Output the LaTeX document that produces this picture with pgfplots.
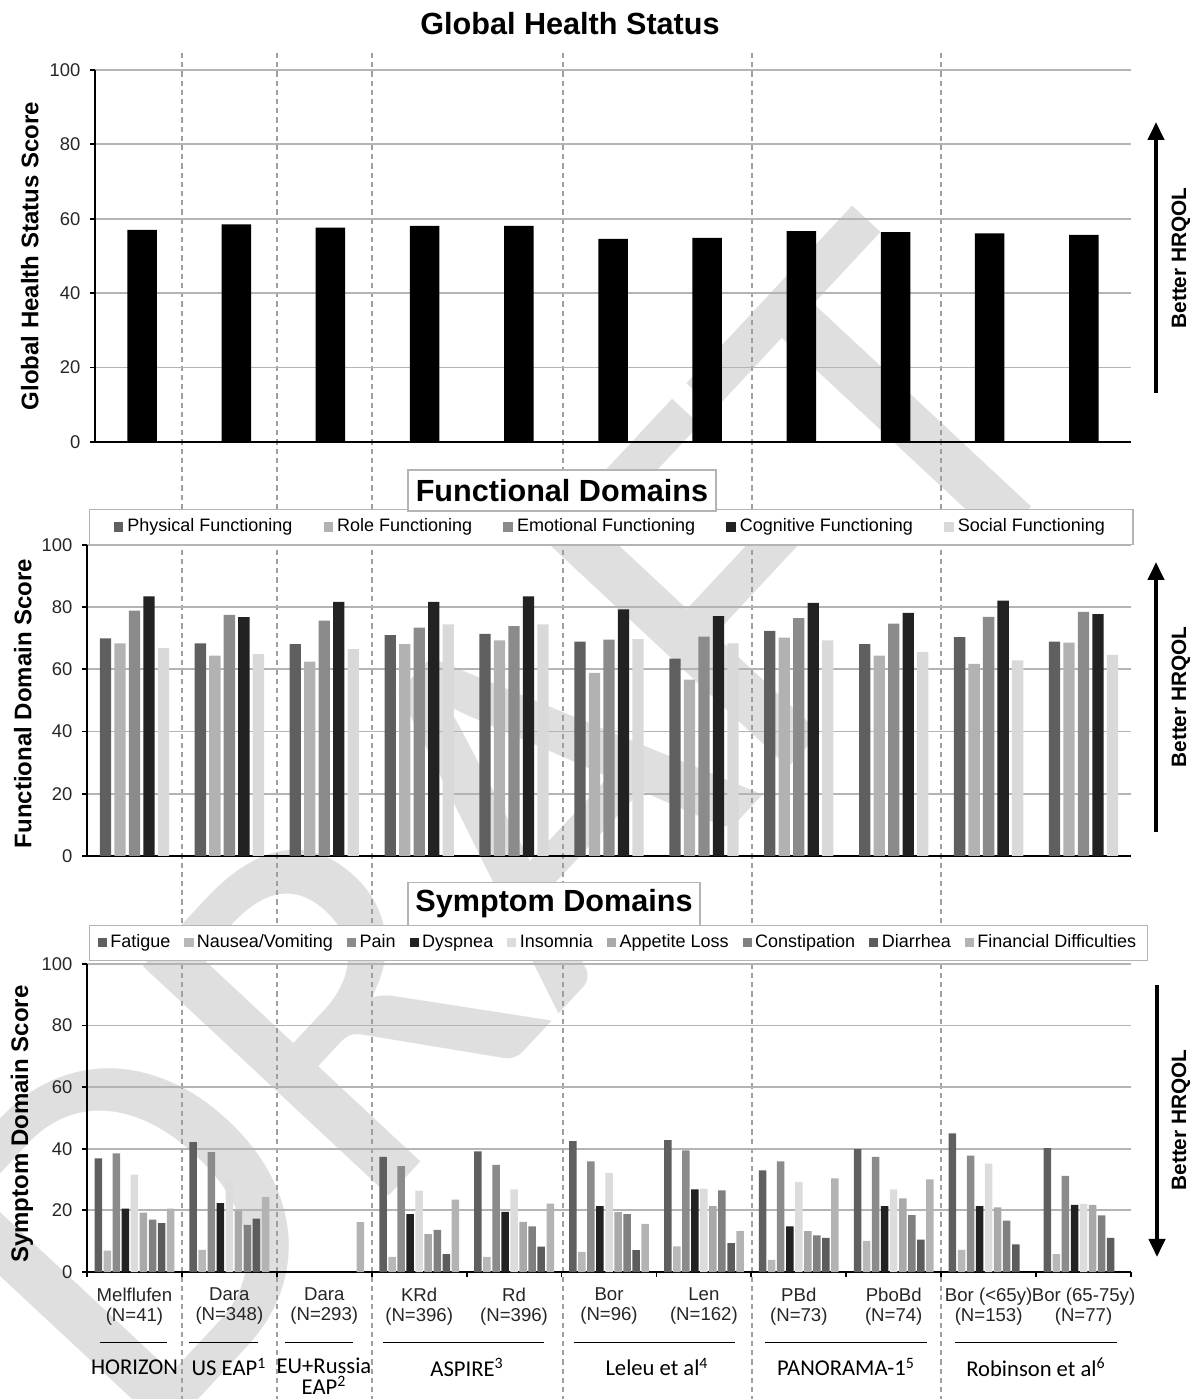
\documentclass[border=0pt]{standalone}
\usepackage{fontspec}
\setmainfont{Liberation Sans}
\newfontfamily\carlito{Carlito}
\usepackage{pgfplots}
\usepackage{pgfplotstable}
\pgfplotsset{compat=1.18}
\usetikzlibrary{arrows.meta}

\definecolor{cPhys}{HTML}{5F5F5F}
\definecolor{cRole}{HTML}{B2B2B2}
\definecolor{cEmot}{HTML}{8B8B8B}
\definecolor{cCog}{HTML}{222222}
\definecolor{cSoc}{HTML}{D9D9D9}
\definecolor{cFat}{HTML}{5F5F5F}
\definecolor{cNau}{HTML}{B8B8B8}
\definecolor{cPain}{HTML}{8B8B8B}
\definecolor{cDys}{HTML}{222222}
\definecolor{cIns}{HTML}{DCDCDC}
\definecolor{cApp}{HTML}{A9A9A9}
\definecolor{cCon}{HTML}{808080}
\definecolor{cDia}{HTML}{5C5C5C}
\definecolor{cFin}{HTML}{B3B3B3}
\definecolor{gridc}{HTML}{B4B4B4}
\definecolor{wm}{HTML}{DFDFDF}

\pgfplotstableread{
idx ghs
0 57.0
1 58.5
2 57.6
3 58.1
4 58.1
5 54.6
6 54.9
7 56.7
8 56.4
9 56.1
10 55.7
}\ghstab

\pgfplotstableread{
idx phys role emot cog soc
0 70.0 68.4 78.9 83.5 66.8
1 68.4 64.4 77.5 76.8 64.9
2 68.1 62.5 75.7 81.7 66.5
3 71.0 68.1 73.4 81.7 74.5
4 71.4 69.3 73.9 83.5 74.5
5 68.9 58.9 69.6 79.3 69.7
6 63.5 56.7 70.5 77.1 68.4
7 72.4 70.2 76.5 81.4 69.3
8 68.1 64.4 74.7 78.2 65.6
9 70.4 61.8 76.9 82.1 62.9
10 68.9 68.6 78.5 77.8 64.7
}\funtab

\pgfplotstableread{
idx fat nau pain dysp ins app con dia fin
0 36.9 6.9 38.5 20.6 31.6 19.3 17.0 15.9 20.6
1 42.2 7.2 38.9 22.4 29.7 19.9 15.3 17.3 24.3
2 nan nan nan nan nan nan nan nan 16.2
3 37.4 4.9 34.4 18.8 26.4 12.3 13.7 5.8 23.5
4 39.2 4.9 34.8 19.5 26.8 16.3 14.8 8.2 22.2
5 42.5 6.5 35.9 21.4 32.2 19.4 18.8 7.1 15.6
6 42.8 8.3 39.5 26.8 27.1 21.4 26.5 9.4 13.3
7 33.0 3.9 35.9 14.8 29.3 13.3 11.9 11.1 30.4
8 39.9 10.1 37.4 21.4 26.8 23.9 18.5 10.5 30.1
9 45.0 7.2 37.8 21.4 35.2 21.0 16.7 9.0 nan
10 40.2 5.8 31.2 21.8 22.1 21.8 18.4 11.1 nan
}\symtab

\pgfplotsset{
  myaxis/.style={
    scale only axis,
    axis x line*=bottom, axis y line*=left,
    axis line style={line width=1.2pt, black, -},
    xmin=-0.5, xmax=10.5, ymin=0, ymax=100,
    ytick={0,20,...,100},
    ymajorgrids, major grid style={line width=0.9pt, color=gridc},
    tick align=outside, major tick length=2.6pt,
    tick style={line width=0.9pt, black},
    yticklabel style={font=\fontsize{9.2}{10}\selectfont, text=black!85, xshift=-1.2pt},
    /pgf/number format/assume math mode=true,
    clip=false,
  },
}

\begin{document}
\begin{tikzpicture}
\useasboundingbox (0,0) rectangle (597pt,699.5pt);

% DRAFT watermark (background)
\node[rotate=47, anchor=center, inner sep=0pt, text=wm,
      font=\carlito\fontsize{262}{262}\selectfont] at (250pt,284.5pt) {DRAFT};

% dashed study separators
\foreach \xx in {91,138.5,186,281.5,376,470.5}{
  \draw[gray!75, line width=0.55pt, dash pattern=on 2.6pt off 2pt] (\xx*1pt,673pt) -- (\xx*1pt,0pt);
}

% ---------------- Global Health Status ----------------
\begin{axis}[myaxis,
  at={(47.5pt,478.5pt)}, anchor=south west,
  width=518pt, height=186pt,
  xtick=\empty,
  ylabel={Global Health Status Score},
  every axis y label/.style={at={(axis description cs:-0.063,0.5)}, rotate=90, anchor=center,
     font=\bfseries\fontsize{12}{14}\selectfont},
]
\addplot[ybar, bar width=14.75pt, fill=black, draw=none] table[x=idx, y=ghs]{\ghstab};
\end{axis}

% ---------------- Functional Domains ----------------
\begin{axis}[myaxis,
  at={(43.5pt,271.5pt)}, anchor=south west,
  width=522pt, height=155.5pt,
  xtick=\empty,
  ybar=1.6pt, bar width=5.65pt,
  ylabel={Functional Domain Score},
  every axis y label/.style={at={(axis description cs:-0.0615,0.49)}, rotate=90, anchor=center,
     font=\bfseries\fontsize{12}{14}\selectfont},
  legend image code/.code={\fill[#1, draw=none] (0pt,-2.4pt) rectangle (4.8pt,2.4pt);},
  legend columns=-1,
  legend style={at={(0.002,1)}, anchor=south west, draw=gridc, line width=0.6pt, fill=white,
    font=\fontsize{9}{11}\selectfont, inner xsep=12pt, inner ysep=3.5pt,
    nodes={inner xsep=2pt, inner ysep=1pt, text height=6.6pt, text depth=1.9pt},
    /tikz/every even column/.append style={column sep=13.6pt}},
]
\addplot[fill=cPhys, draw=none] table[x=idx, y=phys]{\funtab};
\addplot[fill=cRole, draw=none] table[x=idx, y=role]{\funtab};
\addplot[fill=cEmot, draw=none] table[x=idx, y=emot]{\funtab};
\addplot[fill=cCog, draw=none] table[x=idx, y=cog]{\funtab};
\addplot[fill=cSoc, draw=none] table[x=idx, y=soc]{\funtab};
\legend{Physical Functioning, Role Functioning, Emotional Functioning, Cognitive Functioning, Social Functioning}
\end{axis}

% ---------------- Symptom Domains ----------------
\begin{axis}[myaxis,
  at={(43.5pt,63.5pt)}, anchor=south west,
  width=522pt, height=154pt,
  ybar=0.77pt, bar width=3.75pt,
  xtick={-0.5,0.5,...,10.5}, xticklabels={},
  extra x ticks={0,1,...,10},
  extra x tick labels={{Melflufen\\(N=41)},{Dara\\(N=348)},{Dara\\(N=293)},{KRd\\(N=396)},{Rd\\(N=396)},{Bor\\(N=96)},{Len\\(N=162)},{PBd\\(N=73)},{PboBd\\(N=74)},{Bor (<65y)\\(N=153)},{Bor (65-75y)\\(N=77)}},
  extra x tick style={major tick length=0pt,
     xticklabel style={align=center, font=\fontsize{9.3}{10}\selectfont, text=black!85, yshift=-4.5pt}},
  ylabel={Symptom Domain Score},
  every axis y label/.style={at={(axis description cs:-0.0623,0.48)}, rotate=90, anchor=center,
     font=\bfseries\fontsize{12}{14}\selectfont},
  legend image code/.code={\fill[#1, draw=none] (0pt,-2.3pt) rectangle (4.6pt,2.3pt);},
  legend columns=-1,
  legend style={at={(0.002,1.01)}, anchor=south west, draw=gridc, line width=0.6pt, fill=white,
    font=\fontsize{9}{11}\selectfont, inner xsep=4pt, inner ysep=3.5pt,
    nodes={inner xsep=1.7pt, inner ysep=1pt, text height=6.6pt, text depth=1.9pt},
    /tikz/every even column/.append style={column sep=5.3pt}},
]
\addplot[fill=cFat, draw=none] table[x=idx, y=fat]{\symtab};
\addplot[fill=cNau, draw=none] table[x=idx, y=nau]{\symtab};
\addplot[fill=cPain, draw=none] table[x=idx, y=pain]{\symtab};
\addplot[fill=cDys, draw=none] table[x=idx, y=dysp]{\symtab};
\addplot[fill=cIns, draw=none] table[x=idx, y=ins]{\symtab};
\addplot[fill=cApp, draw=none] table[x=idx, y=app]{\symtab};
\addplot[fill=cCon, draw=none] table[x=idx, y=con]{\symtab};
\addplot[fill=cDia, draw=none] table[x=idx, y=dia]{\symtab};
\addplot[fill=cFin, draw=none] table[x=idx, y=fin]{\symtab};
\legend{Fatigue, Nausea/Vomiting, Pain, Dyspnea, Insomnia, Appetite Loss, Constipation, Diarrhea, Financial Difficulties}
\end{axis}

% ---------------- titles ----------------
\node[font=\bfseries\fontsize{15.3}{18}\selectfont] at (285pt,687.5pt) {Global Health Status};
\node[draw=gridc, line width=0.6pt, fill=white, minimum width=154pt, minimum height=20.5pt, inner sep=0pt,
      font=\bfseries\fontsize{15.3}{18}\selectfont] at (281pt,454.25pt) {Functional Domains};
\node[draw=gridc, line width=0.6pt, fill=white, minimum width=146pt, minimum height=21.5pt, inner sep=0pt,
      font=\bfseries\fontsize{15.3}{18}\selectfont] at (277pt,247.5pt) {Symptom Domains};

% ---------------- Better HRQOL arrows ----------------
\draw[line width=2pt, -{Triangle[width=8pt,length=9pt]}] (578pt,503pt) -- (578pt,638.5pt);
\draw[line width=2pt, -{Triangle[width=8pt,length=9pt]}] (578pt,283.5pt) -- (578pt,418.5pt);
\draw[line width=2pt, -{Triangle[width=8pt,length=9pt]}] (578.5pt,207pt) -- (578.5pt,71pt);
\foreach \yy in {570.5,351,139.5}{
  \node[rotate=90, font=\bfseries\fontsize{10.4}{12}\selectfont] at (590.5pt,\yy*1pt) {Better HRQOL};
}

% ---------------- study groups ----------------
\foreach \a/\b in {49.75/83.5, 94.5/128.75, 142.5/176.5, 191.5/272, 287/367.5, 382.5/463.5, 477.5/558.5}{
  \draw[black, line width=0.5pt] (\a*1pt,28pt) -- (\b*1pt,28pt);
}
\begin{scope}[every node/.style={font=\carlito\fontsize{11.3}{12}\selectfont}]
\node at (67.25pt,16pt) {HORIZON};
\node at (114.5pt,16pt) {US EAP\textsuperscript{1}};
\node[align=center, anchor=south, inner sep=0pt, font=\carlito\fontsize{11.3}{10.4}\selectfont] at (162pt,2.2pt) {EU+Russia\\EAP\textsuperscript{2}};
\node at (233.5pt,16pt) {ASPIRE\textsuperscript{3}};
\node at (328.5pt,16pt) {Leleu et al\textsuperscript{4}};
\node at (423pt,16pt) {PANORAMA-1\textsuperscript{5}};
\node at (518pt,16pt) {Robinson et al\textsuperscript{6}};
\end{scope}
\end{tikzpicture}
\end{document}
